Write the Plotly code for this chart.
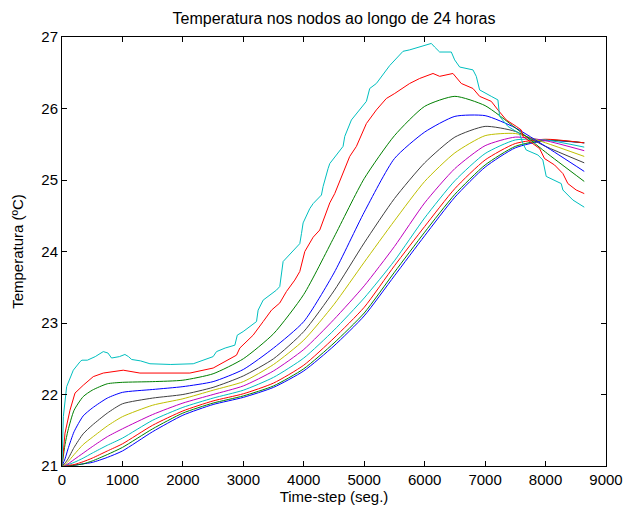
import plotly.graph_objects as go

# Node temperatures over 24 h (time-step in seconds), one series per node.
# Common time grid for the smooth inner nodes
t_grid = [0, 50, 100, 200, 350, 500, 750, 1000, 1500, 2000, 2500, 3000, 3500,
          4000, 4500, 5000, 5500, 6000, 6500, 7000, 7500, 8000, 8640]

node_01 = [21.0, 21.0, 21.0, 21.01, 21.03, 21.05, 21.12, 21.21, 21.48, 21.71, 21.86, 21.96, 22.10,
           22.33, 22.68, 23.10, 23.66, 24.22, 24.76, 25.18, 25.45, 25.55, 25.52]
node_02 = [21.0, 21.0, 21.0, 21.01, 21.03, 21.07, 21.16, 21.26, 21.52, 21.74, 21.88, 21.98, 22.12,
           22.36, 22.72, 23.14, 23.71, 24.27, 24.80, 25.21, 25.47, 25.56, 25.52]
node_03 = [21.0, 21.0, 21.01, 21.02, 21.06, 21.11, 21.21, 21.31, 21.57, 21.77, 21.91, 22.01, 22.16,
           22.41, 22.79, 23.22, 23.80, 24.35, 24.88, 25.28, 25.51, 25.57, 25.52]
node_04 = [21.0, 21.01, 21.02, 21.05, 21.11, 21.18, 21.29, 21.39, 21.64, 21.82, 21.95, 22.06, 22.24,
           22.51, 22.90, 23.35, 23.87, 24.47, 24.99, 25.37, 25.56, 25.56, 25.46]
node_05 = [21.0, 21.01, 21.03, 21.09, 21.18, 21.27, 21.41, 21.52, 21.72, 21.88, 22.00, 22.12, 22.33,
           22.63, 23.05, 23.52, 24.07, 24.68, 25.16, 25.48, 25.60, 25.55, 25.41]
node_06 = [21.0, 21.02, 21.06, 21.16, 21.30, 21.40, 21.56, 21.69, 21.85, 21.94, 22.06, 22.18, 22.42,
           22.76, 23.26, 23.85, 24.43, 24.98, 25.38, 25.62, 25.65, 25.52, 25.33]
node_07 = [21.0, 21.04, 21.10, 21.26, 21.45, 21.57, 21.74, 21.87, 21.95, 22.00, 22.10, 22.26, 22.50,
           22.88, 23.45, 24.12, 24.74, 25.24, 25.60, 25.75, 25.68, 25.47, 25.24]
node_08 = [21.0, 21.10, 21.24, 21.48, 21.70, 21.81, 21.95, 22.03, 22.07, 22.11, 22.18, 22.35, 22.65,
           23.02, 23.70, 24.55, 25.30, 25.67, 25.89, 25.90, 25.73, 25.47, 25.12]
node_09 = [21.0, 21.30, 21.50, 21.78, 21.97, 22.06, 22.15, 22.17, 22.18, 22.20, 22.29, 22.50, 22.85,
           23.40, 24.20, 25.02, 25.62, 26.03, 26.17, 26.04, 25.73, 25.39, 24.98]

# Node 10 (second surface node) with its own time samples
t_node_10 = [0, 50, 132, 215, 352, 517, 683, 1013, 1289, 2116, 2501, 2722, 2887, 2942, 3162, 3328,
             3466, 3603, 3713, 3851, 3934, 4017, 4155, 4264, 4430, 4512, 4678, 4760, 4871, 5036,
             5201, 5366, 5504, 5752, 5917, 6138, 6248, 6468, 6606, 6799, 6909, 7102, 7212, 7350,
             7515, 7598, 7625, 7901, 7983, 8149, 8287, 8369, 8507, 8640]
node_10 = [21.0, 21.46, 21.78, 22.02, 22.13, 22.25, 22.30, 22.34, 22.30, 22.30, 22.37, 22.48, 22.55,
           22.65, 22.83, 23.02, 23.18, 23.28, 23.44, 23.60, 23.72, 24.00, 24.20, 24.30, 24.68,
           24.81, 25.14, 25.33, 25.47, 25.79, 25.98, 26.14, 26.21, 26.35, 26.42, 26.49, 26.45,
           26.49, 26.35, 26.28, 26.17, 26.10, 25.98, 25.84, 25.75, 25.70, 25.61, 25.44, 25.30,
           25.21, 25.09, 24.95, 24.86, 24.81]

# Node 11 (outer surface) with its own time samples
t_node_11 = [0, 10, 22, 77, 187, 300, 330, 420, 550, 683, 760, 820, 950, 1041, 1100, 1152, 1300,
             1455, 1800, 2171, 2336, 2500, 2556, 2700, 2860, 2900, 2997, 3218, 3245, 3328, 3548,
             3603, 3658, 3934, 3962, 3989, 4099, 4155, 4292, 4320, 4402, 4430, 4650, 4678, 4788,
             4981, 5036, 5091, 5201, 5421, 5642, 5752, 5917, 6110, 6165, 6248, 6441, 6496, 6579,
             6799, 6854, 6909, 7102, 7212, 7240, 7377, 7570, 7625, 7680, 7873, 7955, 8011, 8259,
             8287, 8452, 8640]
node_11 = [21.0, 21.50, 21.69, 22.11, 22.34, 22.46, 22.48, 22.48, 22.53, 22.60, 22.58, 22.51, 22.53,
           22.56, 22.53, 22.49, 22.47, 22.43, 22.42, 22.43, 22.48, 22.53, 22.60, 22.65, 22.69,
           22.83, 22.88, 23.02, 23.18, 23.32, 23.46, 23.51, 23.86, 24.11, 24.25, 24.40, 24.60,
           24.67, 24.79, 24.91, 25.16, 25.23, 25.47, 25.61, 25.84, 26.05, 26.10, 26.28, 26.35,
           26.60, 26.80, 26.82, 26.86, 26.91, 26.86, 26.79, 26.79, 26.68, 26.58, 26.54, 26.45,
           26.26, 26.17, 26.12, 25.89, 25.75, 25.65, 25.51, 25.42, 25.35, 25.28, 25.05, 24.95,
           24.86, 24.72, 24.62]

x_ticks = [0, 1000, 2000, 3000, 4000, 5000, 6000, 7000, 8000, 9000]
y_ticks = [21, 22, 23, 24, 25, 26, 27]

# Classic colour cycle: b, g, r, c, m, y, k
cycle = ["rgb(0,0,255)", "rgb(0,128,0)", "rgb(255,0,0)", "rgb(0,191,191)",
         "rgb(191,0,191)", "rgb(191,191,0)", "rgb(64,64,64)"]

series = [
    (t_grid, node_01), (t_grid, node_02), (t_grid, node_03), (t_grid, node_04),
    (t_grid, node_05), (t_grid, node_06), (t_grid, node_07), (t_grid, node_08),
    (t_grid, node_09), (t_node_10, node_10), (t_node_11, node_11),
]

fig = go.Figure()
for i, (tx, ty) in enumerate(series):
    smooth = tx is t_grid
    fig.add_trace(go.Scatter(
        x=tx, y=ty, mode="lines",
        line=dict(color=cycle[i % len(cycle)], width=1,
                  shape="spline" if smooth else "linear",
                  smoothing=0.6 if smooth else None),
        showlegend=False, hoverinfo="skip",
    ))

font_family = "Liberation Sans, Arial, sans-serif"
axis_common = dict(
    showline=True, linecolor="black", linewidth=1, mirror="ticks",
    ticks="inside", ticklen=5, tickcolor="black", tickwidth=1,
    showgrid=False, zeroline=False, automargin=False,
    tickfont=dict(family=font_family, size=15, color="black"),
)

fig.update_layout(
    width=624, height=512,
    margin=dict(l=62, r=18, t=37, b=46),
    paper_bgcolor="white", plot_bgcolor="white",
    title=dict(text="Temperatura nos nodos ao longo de 24 horas",
               x=(62 + 606) / 2 / 624, xanchor="center", y=1 - 18 / 512, yanchor="middle",
               font=dict(family=font_family, size=16, color="black")),
    xaxis=dict(range=[0, 9000], tickvals=x_ticks, ticktext=[str(v) for v in x_ticks],
               title=dict(text="Time-step (seg.)", standoff=2,
                          font=dict(family=font_family, size=15, color="black")),
               **axis_common),
    yaxis=dict(range=[21, 27], tickvals=y_ticks, ticktext=[str(v) for v in y_ticks],
               title=dict(text="Temperatura (ºC)", standoff=14,
                          font=dict(family=font_family, size=15, color="black")),
               **axis_common),
)

fig.write_html("out.html")
